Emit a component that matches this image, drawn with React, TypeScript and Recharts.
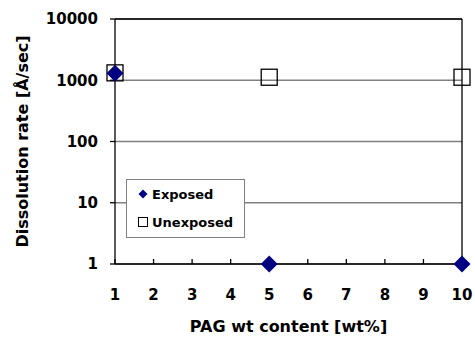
import { CartesianGrid, ReferenceLine, Scatter, ScatterChart, XAxis, YAxis } from "recharts";

const wtContent = [1, 5, 10];
const exposedRate = [1300, 1, 1];
const unexposedRate = [1320, 1120, 1120];
const xTicks = [1, 2, 3, 4, 5, 6, 7, 8, 9, 10];
const yTicks = [1, 10, 100, 1000, 10000];

const exposedData = wtContent.map((x, i) => ({ x, y: exposedRate[i] }));
const unexposedData = wtContent.map((x, i) => ({ x, y: unexposedRate[i] }));

const font = "'DejaVu Sans', sans-serif";
const navy = "#000080";

function Diamond(props: any) {
  const { cx, cy } = props;
  const r = 8.5;
  return <path d={`M${cx},${cy - r}L${cx + r},${cy}L${cx},${cy + r}L${cx - r},${cy}Z`} fill={navy} />;
}

function Square(props: any) {
  const { cx, cy } = props;
  const r = 8;
  return <rect x={cx - r} y={cy - r} width={2 * r} height={2 * r} fill="none" stroke="#000" strokeWidth={1.3} />;
}

function LegendBox() {
  const row = { display: "flex", alignItems: "center", height: 28, fontFamily: font, fontWeight: 700, fontSize: 13, color: "#000" } as const;
  return (
    <div style={{ position: "absolute", left: 126, top: 179, border: "1px solid #808080", background: "#fff", width: 117, height: 57 }}>
      <div style={row}>
        <svg width={25} height={12}>
          <path d="M16,1.5L20.5,6L16,10.5L11.5,6Z" fill={navy} />
        </svg>
        Exposed
      </div>
      <div style={row}>
        <svg width={25} height={12}>
          <rect x={11.5} y={1.5} width={9} height={9} fill="none" stroke="#000" />
        </svg>
        Unexposed
      </div>
    </div>
  );
}

export default function App() {
  return (
    <div style={{ position: "absolute", left: 0, top: 0, width: 475, height: 338, background: "#fff" }}>
      <ScatterChart width={475} height={338} margin={{ top: 19, right: 13, bottom: 0, left: 0 }}>
        <CartesianGrid vertical={false} stroke="#808080" strokeWidth={1.3} />
        <XAxis
          type="number"
          dataKey="x"
          domain={[1, 10]}
          ticks={xTicks}
          interval={0}
          height={74}
          stroke="#000"
          strokeWidth={1.3}
          tickSize={-5}
          tickMargin={30}
          tick={{ fill: "#000", fontFamily: font, fontWeight: 700, fontSize: 15 }}
          label={{ value: "PAG wt content [wt%]", position: "insideBottom", offset: 6, fill: "#000", fontFamily: font, fontWeight: 700, fontSize: 16 }}
        />
        <YAxis
          type="number"
          dataKey="y"
          scale="log"
          domain={[1, 10000]}
          ticks={yTicks}
          interval={0}
          width={115}
          stroke="#000"
          strokeWidth={1.3}
          tickSize={5}
          tickMargin={12}
          tick={{ fill: "#000", fontFamily: font, fontWeight: 700, fontSize: 15 }}
          label={{ value: "Dissolution rate  [Å/sec]", angle: -90, position: "insideLeft", offset: 22, fill: "#000", fontFamily: font, fontWeight: 700, fontSize: 16, style: { textAnchor: "middle", whiteSpace: "pre" } }}
        />
        <ReferenceLine y={10000} stroke="#000" strokeWidth={1.3} />
        <ReferenceLine x={10} stroke="#000" strokeWidth={1.3} />
        <Scatter name="Unexposed" data={unexposedData} shape={<Square />} isAnimationActive={false} />
        <Scatter name="Exposed" data={exposedData} shape={<Diamond />} isAnimationActive={false} />
      </ScatterChart>
      <LegendBox />
    </div>
  );
}
